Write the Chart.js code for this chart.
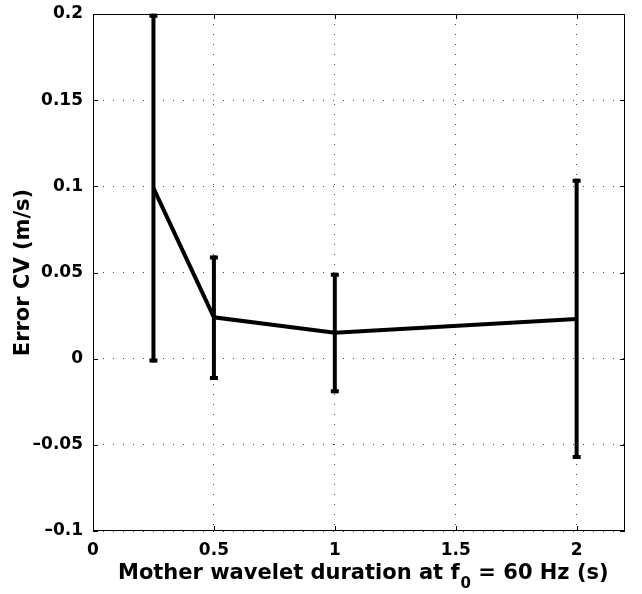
<!DOCTYPE html>
<html>
<head>
<meta charset="utf-8">
<script src="https://cdn.jsdelivr.net/npm/chart.js@4.4.0/dist/chart.umd.min.js"></script>
<style>
  html, body { margin: 0; padding: 0; background: #fff; }
  #wrap { width: 642px; height: 594px; }
</style>
</head>
<body>
<div id="wrap"><canvas id="cvChart" width="642" height="594"></canvas></div>
<script>
// data
var durations = [0.25, 0.5, 1, 2];
var meanErr = [0.099, 0.024, 0.015, 0.023];
var errHigh = [0.199, 0.0587, 0.0487, 0.1033];
var errLow = [-0.001, -0.0112, -0.0189, -0.057];
var xTicks = [0, 0.5, 1, 1.5, 2];
var yTicks = [-0.1, -0.05, 0, 0.05, 0.1, 0.15, 0.2];

var pts = durations.map(function (d, i) { return { x: d, y: meanErr[i] }; });
var FONT = '"DejaVu Sans", "Liberation Sans", sans-serif';

function fmt(v) {
  var s = String(Math.round(v * 1000) / 1000);
  return s.replace('-', '\u2013');
}

// error bars + box + inward ticks, matlab style
var errorBars = {
  id: 'errorBars',
  afterDatasetsDraw: function (chart) {
    var ctx = chart.ctx, xs = chart.scales.x, ys = chart.scales.y;
    ctx.save();
    ctx.strokeStyle = '#000';
    ctx.lineWidth = 4;
    ctx.lineCap = 'butt';
    durations.forEach(function (d, i) {
      var px = xs.getPixelForValue(d);
      var top = ys.getPixelForValue(errHigh[i]);
      var bot = ys.getPixelForValue(errLow[i]);
      ctx.beginPath();
      ctx.moveTo(px, top - 2);
      ctx.lineTo(px, bot + 2);
      ctx.stroke();
      ctx.beginPath();
      ctx.moveTo(px - 4, top); ctx.lineTo(px + 4, top);
      ctx.moveTo(px - 4, bot); ctx.lineTo(px + 4, bot);
      ctx.stroke();
    });
    ctx.restore();
  },
  afterDraw: function (chart) {
    var ctx = chart.ctx, a = chart.chartArea, xs = chart.scales.x, ys = chart.scales.y;
    ctx.save();
    ctx.strokeStyle = '#000';
    ctx.lineWidth = 1;
    ctx.strokeRect(a.left + 0.5, a.top + 0.5, a.right - a.left - 1, a.bottom - a.top - 1);
    ctx.beginPath();
    xTicks.forEach(function (t) {
      var px = Math.round(xs.getPixelForValue(t)) + 0.5;
      ctx.moveTo(px, a.bottom); ctx.lineTo(px, a.bottom - 5);
      ctx.moveTo(px, a.top); ctx.lineTo(px, a.top + 5);
    });
    yTicks.forEach(function (t) {
      var py = Math.round(ys.getPixelForValue(t)) + 0.5;
      ctx.moveTo(a.left, py); ctx.lineTo(a.left + 5, py);
      ctx.moveTo(a.right, py); ctx.lineTo(a.right - 5, py);
    });
    ctx.stroke();

    // x title with subscript f0
    ctx.fillStyle = '#000';
    ctx.textBaseline = 'alphabetic';
    ctx.textAlign = 'left';
    var big = 'bold 21px ' + FONT, small = 'bold 15px ' + FONT;
    var p1 = 'Mother wavelet duration at f', sub = '0', p2 = ' = 60 Hz (s)';
    ctx.font = big;
    var w1 = ctx.measureText(p1).width, w3 = ctx.measureText(p2).width;
    ctx.font = small;
    var w2 = ctx.measureText(sub).width;
    var x0 = 118;
    var base = 579;
    ctx.font = big;
    ctx.fillText(p1, x0, base);
    ctx.font = small;
    ctx.fillText(sub, x0 + w1 + 1, base + 9);
    ctx.font = big;
    ctx.fillText(p2, x0 + w1 + w2 + 1, base);
    ctx.restore();
  }
};

var ctx = document.getElementById('cvChart').getContext('2d');
var cvChart = new Chart(ctx, {
  type: 'line',
  data: {
    datasets: [{
      label: 'Error CV',
      data: pts,
      borderColor: '#000',
      borderWidth: 4,
      pointRadius: 0,
      tension: 0,
      fill: false
    }]
  },
  options: {
    responsive: false,
    animation: false,
    layout: { padding: { left: 0, top: 14, right: 17, bottom: 0 } },
    plugins: { legend: { display: false }, tooltip: { enabled: false } },
    scales: {
      x: {
        type: 'linear',
        min: 0,
        max: 2.2,
        afterFit: function (s) { s.height = 63; s.paddingLeft = 0; s.paddingRight = 0; },
        afterBuildTicks: function (s) { s.ticks = xTicks.map(function (v) { return { value: v }; }); },
        ticks: {
          color: '#000',
          padding: 9,
          maxRotation: 0,
          font: { family: FONT, size: 17, weight: 'bold' },
          callback: function (v) { return fmt(v); }
        },
        grid: { color: '#444', lineWidth: 1, drawTicks: false },
        border: { display: false, dash: [1, 9] }
      },
      y: {
        min: -0.1,
        max: 0.2,
        afterFit: function (s) { s.width = 93; s.paddingTop = 0; s.paddingBottom = 0; },
        afterBuildTicks: function (s) { s.ticks = yTicks.map(function (v) { return { value: v }; }); },
        ticks: {
          color: '#000',
          padding: 10,
          font: { family: FONT, size: 17, weight: 'bold' },
          callback: function (v) { return fmt(v); }
        },
        grid: { color: '#444', lineWidth: 1, drawTicks: false },
        border: { display: false, dash: [1, 9] },
        title: {
          display: true,
          text: 'Error CV (m/s)',
          color: '#000',
          padding: { top: 11, bottom: 0 },
          font: { family: FONT, size: 21, weight: 'bold' }
        }
      }
    }
  },
  plugins: [errorBars]
});
</script>
</body>
</html>
